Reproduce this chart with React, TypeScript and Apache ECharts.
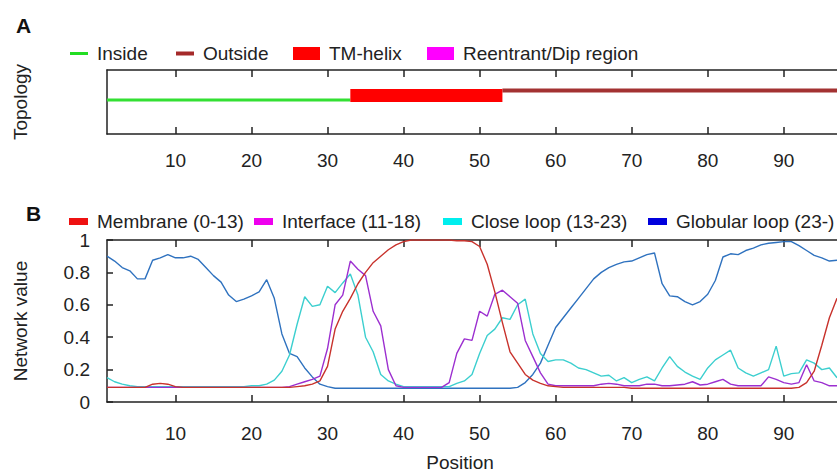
import React, { useEffect, useRef } from "react";
import * as echarts from "echarts";

// ---------- data ----------
const firstPosition = 1;
const lastPosition = 97;
const positionTicks = [10, 20, 30, 40, 50, 60, 70, 80, 90];
const networkTicks = [0, 0.2, 0.4, 0.6, 0.8, 1];

const topologyNames = ["Inside", "Outside", "TM-helix", "Reentrant/Dip region"];
const insideSegment = [1, 33];
const helixSegment = [33, 53];
const outsideSegment = [53, 97];
const reentrantSegment: number[] = [];

const networkNames = ["Membrane (0-13)", "Interface (11-18)", "Close loop (13-23)", "Globular loop (23-)"];

const membrane = [
  0.09, 0.09, 0.09, 0.09, 0.09, 0.09, 0.11, 0.115, 0.11, 0.095,
  0.09, 0.09, 0.09, 0.09, 0.09, 0.09, 0.09, 0.09, 0.09, 0.09,
  0.09, 0.09, 0.09, 0.09, 0.09, 0.095, 0.1, 0.11, 0.13, 0.22,
  0.45, 0.56, 0.64, 0.73, 0.8, 0.86, 0.9, 0.94, 0.97, 0.99,
  1.0, 1.0, 1.0, 1.0, 1.0, 1.0, 0.995, 0.995, 0.99, 0.96,
  0.85, 0.68, 0.49, 0.31, 0.24, 0.17, 0.135, 0.115, 0.1, 0.095,
  0.09, 0.09, 0.09, 0.09, 0.09, 0.09, 0.09, 0.09, 0.09, 0.085,
  0.085, 0.085, 0.085, 0.085, 0.085, 0.085, 0.085, 0.085, 0.085, 0.085,
  0.085, 0.085, 0.085, 0.085, 0.085, 0.085, 0.085, 0.085, 0.085, 0.085,
  0.085, 0.09, 0.12, 0.19, 0.35, 0.52, 0.64,
];

const interfaceValues = [
  0.09, 0.09, 0.09, 0.09, 0.09, 0.09, 0.09, 0.09, 0.09, 0.09,
  0.09, 0.09, 0.09, 0.09, 0.09, 0.09, 0.09, 0.09, 0.09, 0.09,
  0.09, 0.09, 0.09, 0.09, 0.095, 0.11, 0.125, 0.14, 0.16, 0.33,
  0.6, 0.66, 0.87, 0.82, 0.78, 0.56, 0.47, 0.2, 0.1, 0.09,
  0.09, 0.09, 0.09, 0.09, 0.09, 0.12, 0.3, 0.39, 0.38, 0.56,
  0.53, 0.665, 0.69, 0.65, 0.61, 0.38, 0.28, 0.18, 0.11, 0.1,
  0.1, 0.1, 0.1, 0.1, 0.1, 0.11, 0.115, 0.11, 0.1, 0.1,
  0.1, 0.11, 0.11, 0.1, 0.1, 0.105, 0.11, 0.125, 0.105, 0.11,
  0.125, 0.14, 0.11, 0.1, 0.1, 0.1, 0.1, 0.155, 0.14, 0.12,
  0.11, 0.12, 0.23, 0.13, 0.12, 0.1, 0.1,
];

const closeLoop = [
  0.15, 0.125, 0.11, 0.1, 0.095, 0.095, 0.095, 0.095, 0.095, 0.095,
  0.095, 0.095, 0.095, 0.095, 0.095, 0.095, 0.095, 0.095, 0.095, 0.1,
  0.1, 0.11, 0.135, 0.19, 0.29, 0.48, 0.65, 0.59, 0.6, 0.715,
  0.675, 0.735, 0.79, 0.66, 0.4, 0.31, 0.17, 0.13, 0.11, 0.095,
  0.095, 0.095, 0.095, 0.095, 0.095, 0.095, 0.115, 0.13, 0.17, 0.3,
  0.41, 0.45, 0.52, 0.51, 0.6, 0.635, 0.42, 0.3, 0.25, 0.26,
  0.26, 0.24, 0.21, 0.2, 0.18, 0.16, 0.165, 0.13, 0.15, 0.12,
  0.14, 0.155, 0.13, 0.21, 0.28, 0.22, 0.185, 0.16, 0.14, 0.21,
  0.26, 0.29, 0.32, 0.21, 0.18, 0.16, 0.18, 0.2, 0.345, 0.16,
  0.175, 0.18, 0.26, 0.24, 0.2, 0.21, 0.15,
];

const globularLoop = [
  0.9, 0.87, 0.83, 0.81, 0.76, 0.76, 0.875, 0.89, 0.91, 0.89,
  0.89, 0.9, 0.88, 0.83, 0.78, 0.74, 0.66, 0.62, 0.635, 0.655,
  0.68, 0.755, 0.64, 0.42, 0.3, 0.28, 0.21, 0.155, 0.11, 0.095,
  0.085, 0.085, 0.085, 0.085, 0.085, 0.085, 0.085, 0.085, 0.085, 0.085,
  0.085, 0.085, 0.085, 0.085, 0.085, 0.085, 0.085, 0.085, 0.085, 0.085,
  0.085, 0.085, 0.085, 0.085, 0.09, 0.12, 0.17, 0.24, 0.35, 0.46,
  0.52, 0.58, 0.64, 0.7, 0.76, 0.8, 0.83, 0.85, 0.865, 0.87,
  0.89, 0.91, 0.92, 0.73, 0.655, 0.65, 0.62, 0.6, 0.62, 0.665,
  0.75, 0.895, 0.915, 0.91, 0.935, 0.95, 0.97, 0.98, 0.985, 0.99,
  0.99, 0.965, 0.935, 0.905, 0.89, 0.87, 0.875,
];

// ---------- styles ----------
const FONT = "'Liberation Sans', Arial, sans-serif";
const TXT = "#222222";
const AXIS = "#222222";
const FS = 19;

const toPairs = (vals: number[]) => vals.map((v, i) => [firstPosition + i, v]);
const segPairs = (seg: number[], level: number) => seg.map((p) => [p, level]);

function legendAt(name: string, left: number, top: number, w: number, h: number, color: string) {
  return {
    show: true,
    left,
    top,
    padding: 0,
    itemWidth: w,
    itemHeight: h,
    selectedMode: false,
    data: [{ name, icon: "rect", itemStyle: { color, borderWidth: 0 } }],
    textStyle: { fontFamily: FONT, fontSize: FS, color: TXT, padding: [0, 0, 0, 4] },
  };
}

function xAxisFor(gridIndex: number, position: "top" | "bottom", labelMargin: number) {
  const showLabel = position === "bottom";
  return {
    gridIndex,
    type: "value",
    position,
    min: firstPosition,
    max: lastPosition,
    axisLine: { show: true, onZero: false, lineStyle: { color: AXIS, width: 1.5 } },
    axisTick: { show: true, inside: true, length: 7, customValues: positionTicks, lineStyle: { color: AXIS, width: 1.5 } },
    axisLabel: {
      show: showLabel,
      customValues: positionTicks,
      margin: labelMargin,
      color: TXT,
      fontSize: FS,
      fontFamily: FONT,
    },
    splitLine: { show: false },
  };
}

export default function App() {
  const ref = useRef<HTMLDivElement>(null);
  useEffect(() => {
    document.body.style.margin = "0";
    document.body.style.overflow = "hidden";
    if (!ref.current) return;
    const chart = echarts.init(ref.current, undefined, { renderer: "svg" });
    const lineCommon = { type: "line", showSymbol: false, symbol: "none", animation: false };
    chart.setOption({
      animation: false,
      backgroundColor: "#ffffff",
      textStyle: { fontFamily: FONT },
      title: [
        { text: "A", left: 16, top: 15, padding: 0, textStyle: { fontSize: 21, fontWeight: "bold", color: "#111", fontFamily: FONT } },
        { text: "B", left: 26, top: 203, padding: 0, textStyle: { fontSize: 21, fontWeight: "bold", color: "#111", fontFamily: FONT } },
      ],
      legend: [
        legendAt(topologyNames[0], 70, 44, 18, 3, "#22dd22"),
        legendAt(topologyNames[1], 176, 44, 18, 4, "#a52a2a"),
        legendAt(topologyNames[2], 293, 44, 27, 13, "#ff0000"),
        legendAt(topologyNames[3], 427, 44, 27, 13, "#ff00ff"),
        legendAt(networkNames[0], 69, 212, 19, 7, "#ee1111"),
        legendAt(networkNames[1], 254, 212, 19, 7, "#ee00ee"),
        legendAt(networkNames[2], 443, 212, 19, 7, "#00eeee"),
        legendAt(networkNames[3], 648, 212, 19, 7, "#0000dd"),
      ],
      grid: [
        { left: 107, right: 0, top: 70, height: 64, containLabel: false },
        { left: 107, right: 0, top: 240, height: 162, containLabel: false },
      ],
      xAxis: [
        xAxisFor(0, "bottom", 17),
        xAxisFor(0, "top", 8),
        xAxisFor(1, "bottom", 22),
        xAxisFor(1, "top", 8),
      ],
      yAxis: [
        {
          gridIndex: 0,
          type: "value",
          min: 0,
          max: 1,
          axisLine: { show: true, lineStyle: { color: AXIS, width: 1.5 } },
          axisTick: { show: false },
          axisLabel: { show: false },
          splitLine: { show: false },
          name: "Topology",
          nameLocation: "middle",
          nameGap: 77,
          nameTextStyle: { fontSize: FS, color: TXT, fontFamily: FONT },
        },
        {
          gridIndex: 1,
          type: "value",
          min: networkTicks[0],
          max: networkTicks[networkTicks.length - 1],
          interval: 0.2,
          axisLine: { show: true, lineStyle: { color: AXIS, width: 1.5 } },
          axisTick: { show: true, inside: true, length: 6, lineStyle: { color: AXIS, width: 1.5 } },
          axisLabel: { margin: 17, color: TXT, fontSize: FS, fontFamily: FONT },
          splitLine: { show: false },
          name: "Network value",
          nameLocation: "middle",
          nameGap: 77,
          nameTextStyle: { fontSize: FS, color: TXT, fontFamily: FONT },
        },
      ],
      graphic: [
        {
          type: "text",
          x: 460,
          y: 462,
          style: { text: "Position", align: "center", verticalAlign: "middle", fontSize: FS, fontFamily: FONT, fill: TXT },
        },
      ],
      series: [
        {
          ...lineCommon,
          name: topologyNames[0],
          xAxisIndex: 0,
          yAxisIndex: 0,
          data: segPairs(insideSegment, 0.53),
          itemStyle: { color: "#22dd22" },
          lineStyle: { color: "#33e033", width: 3, cap: "butt" },
        },
        {
          ...lineCommon,
          name: topologyNames[1],
          xAxisIndex: 0,
          yAxisIndex: 0,
          data: segPairs(outsideSegment, 0.68),
          itemStyle: { color: "#a52a2a" },
          lineStyle: { color: "#a33232", width: 4, cap: "butt" },
        },
        {
          ...lineCommon,
          name: topologyNames[3],
          xAxisIndex: 0,
          yAxisIndex: 0,
          data: segPairs(reentrantSegment, 0.6),
          itemStyle: { color: "#ff00ff" },
          lineStyle: { color: "#ff00ff", width: 13, cap: "butt" },
        },
        {
          ...lineCommon,
          name: topologyNames[2],
          xAxisIndex: 0,
          yAxisIndex: 0,
          data: segPairs(helixSegment, 0.6),
          itemStyle: { color: "#ff0000" },
          lineStyle: { color: "#ff0000", width: 13, cap: "butt" },
        },
        {
          ...lineCommon,
          name: networkNames[3],
          xAxisIndex: 2,
          yAxisIndex: 1,
          data: toPairs(globularLoop),
          itemStyle: { color: "#0000dd" },
          lineStyle: { color: "#2f72bf", width: 1.4 },
        },
        {
          ...lineCommon,
          name: networkNames[2],
          xAxisIndex: 2,
          yAxisIndex: 1,
          data: toPairs(closeLoop),
          itemStyle: { color: "#00eeee" },
          lineStyle: { color: "#3ccfcf", width: 1.4 },
        },
        {
          ...lineCommon,
          name: networkNames[1],
          xAxisIndex: 2,
          yAxisIndex: 1,
          data: toPairs(interfaceValues),
          itemStyle: { color: "#ee00ee" },
          lineStyle: { color: "#9c2fd0", width: 1.4 },
        },
        {
          ...lineCommon,
          name: networkNames[0],
          xAxisIndex: 2,
          yAxisIndex: 1,
          data: toPairs(membrane),
          itemStyle: { color: "#ee1111" },
          lineStyle: { color: "#c8322c", width: 1.4 },
        },
      ],
    });
    return () => chart.dispose();
  }, []);
  return <div ref={ref} style={{ width: 837, height: 473 }} />;
}
